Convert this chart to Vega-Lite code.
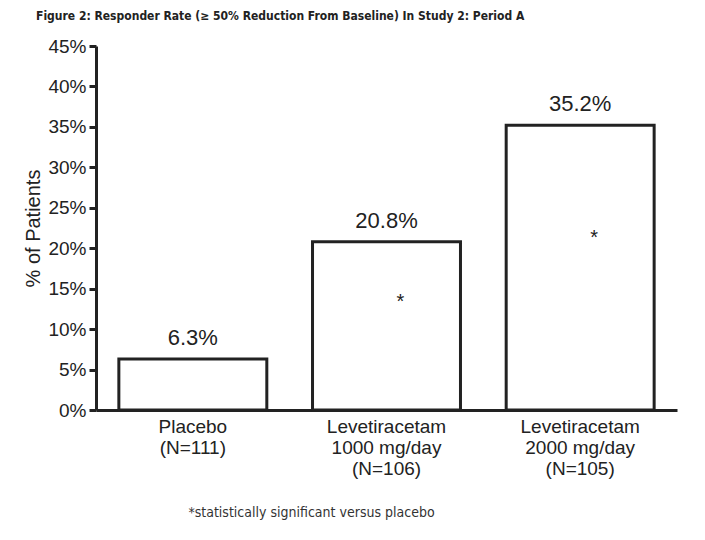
{
  "$schema": "https://vega.github.io/schema/vega-lite/v6.json",
  "width": 581,
  "height": 364,
  "autosize": {"type": "none"},
  "padding": {"left": 96, "top": 46, "right": 28, "bottom": 130},
  "background": "white",
  "config": {"view": {"stroke": null}},
  "title": {
    "text": "Figure 2: Responder Rate (≥ 50% Reduction From Baseline) In Study 2: Period A",
    "anchor": "start",
    "frame": "group",
    "dx": -60,
    "offset": 14,
    "font": "DejaVu Sans Condensed, Liberation Sans",
    "fontWeight": "bold",
    "fontSize": 12,
    "color": "#222222"
  },
  "data": {
    "values": [
      {"group": "Placebo|(N=111)", "rate": 6.3, "label": "6.3%", "star": "", "star_y": null},
      {"group": "Levetiracetam|1000 mg/day|(N=106)", "rate": 20.8, "label": "20.8%", "star": "*", "star_y": 14},
      {"group": "Levetiracetam|2000 mg/day|(N=105)", "rate": 35.2, "label": "35.2%", "star": "*", "star_y": 21.9}
    ]
  },
  "encoding": {
    "x": {
      "field": "group",
      "type": "nominal",
      "sort": null,
      "scale": {"paddingInner": 0.236, "paddingOuter": 0.118},
      "axis": {
        "title": "*statistically significant versus placebo",
        "titleFont": "DejaVu Sans Condensed, Liberation Sans",
        "titleFontWeight": "normal",
        "titleFontSize": 14,
        "titleColor": "#333333",
        "titleX": 215,
        "titleY": 102,
        "titleAlign": "center",
        "titleBaseline": "middle",
        "labelExpr": "split(datum.label, '|')",
        "labelAngle": 0,
        "labelFont": "Liberation Sans",
        "labelFontSize": 19,
        "labelColor": "#222222",
        "labelLineHeight": 21,
        "labelPadding": 7,
        "ticks": false,
        "domainColor": "#222222",
        "domainWidth": 3
      }
    }
  },
  "layer": [
    {
      "mark": {"type": "bar", "fill": "white", "stroke": "#222222", "strokeWidth": 3},
      "encoding": {
        "y": {
          "field": "rate",
          "type": "quantitative",
          "scale": {"domain": [0, 45], "nice": false},
          "axis": {
            "title": "% of Patients",
            "titleFont": "Liberation Sans",
            "titleFontWeight": "normal",
            "titleFontSize": 20,
            "titleColor": "#222222",
            "titlePadding": 4,
            "values": [0, 5, 10, 15, 20, 25, 30, 35, 40, 45],
            "labelExpr": "datum.value + '%'",
            "labelFont": "Liberation Sans",
            "labelFontSize": 19,
            "labelColor": "#222222",
            "labelPadding": 3,
            "tickSize": 7,
            "tickWidth": 3,
            "tickColor": "#222222",
            "domainColor": "#222222",
            "domainWidth": 3,
            "grid": false
          }
        }
      }
    },
    {
      "mark": {"type": "text", "font": "Liberation Sans", "fontSize": 22, "color": "#222222", "baseline": "alphabetic", "dy": -14},
      "encoding": {
        "y": {"field": "rate", "type": "quantitative"},
        "text": {"field": "label"}
      }
    },
    {
      "mark": {"type": "text", "font": "Liberation Sans", "fontSize": 20, "color": "#222222", "baseline": "middle", "dx": 14, "dy": 5},
      "encoding": {
        "y": {"field": "star_y", "type": "quantitative"},
        "text": {"field": "star"}
      }
    }
  ]
}
